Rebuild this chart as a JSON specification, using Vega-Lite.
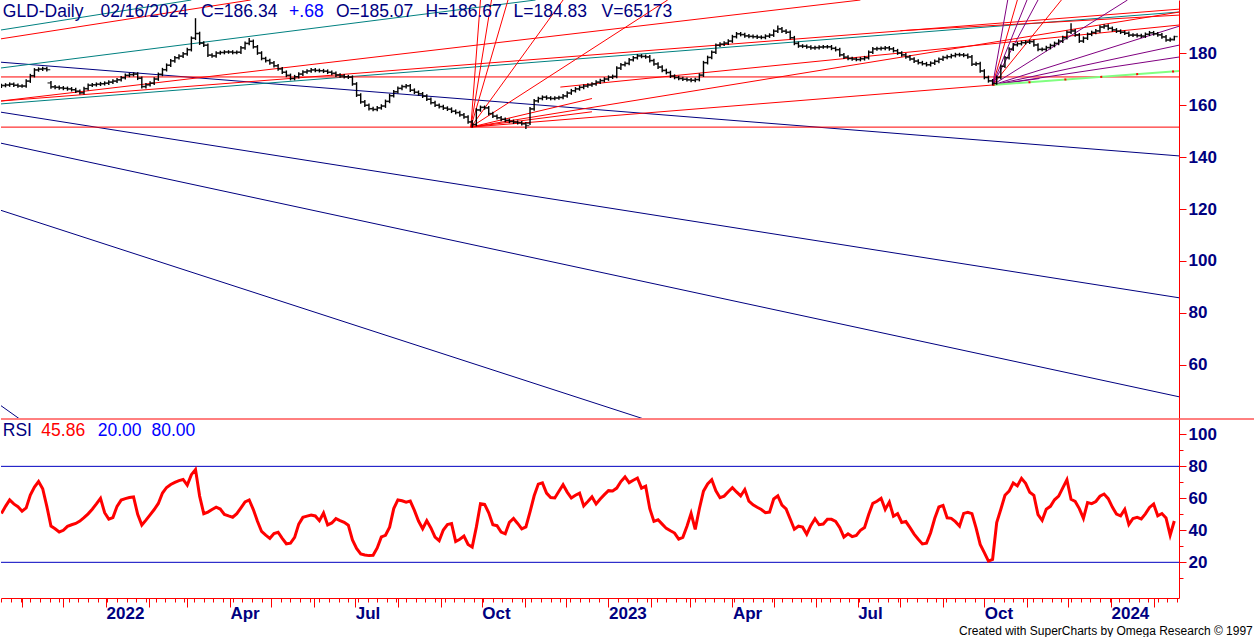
{
  "$schema": "https://vega.github.io/schema/vega-lite/v6.json",
  "padding": 0,
  "spacing": 0,
  "background": "white",
  "config": {
    "view": {"stroke": null},
    "font": "Liberation Sans",
    "axis": {"labelFont": "Liberation Sans", "grid": false}
  },
  "datasets": {
    "bars": [
      {"d":"2021-10-17","o":167.2,"h":168.2,"l":166.5,"c":167.5,"r":50.5},
      {"d":"2021-10-20","o":167.5,"h":168.4,"l":166.8,"c":167.7,"r":55},
      {"d":"2021-10-23","o":167.7,"h":168.7,"l":167,"c":168,"r":59},
      {"d":"2021-10-26","o":168,"h":168.7,"l":166.9,"c":167.6,"r":56.5},
      {"d":"2021-10-29","o":167.6,"h":168.3,"l":166.6,"c":167.3,"r":54.8},
      {"d":"2021-11-01","o":167.3,"h":168,"l":166.6,"c":167.3,"r":52},
      {"d":"2021-11-04","o":167.3,"h":169.9,"l":166.6,"c":169.2,"r":54},
      {"d":"2021-11-07","o":169.2,"h":172,"l":168.5,"c":171.3,"r":62},
      {"d":"2021-11-10","o":171.3,"h":174.2,"l":170.6,"c":173.5,"r":67},
      {"d":"2021-11-13","o":173.5,"h":174.5,"l":172.8,"c":173.8,"r":70.5},
      {"d":"2021-11-16","o":173.8,"h":174.7,"l":173.1,"c":174,"r":66},
      {"d":"2021-11-19","o":174,"h":174.7,"l":172.9,"c":173.6,"r":55},
      {"d":"2021-11-22","o":168.5,"h":169.2,"l":166.3,"c":167,"r":42.7},
      {"d":"2021-11-25","o":167,"h":167.7,"l":166.1,"c":166.8,"r":41},
      {"d":"2021-11-28","o":166.8,"h":167.5,"l":165.9,"c":166.6,"r":39},
      {"d":"2021-12-01","o":166.6,"h":167.3,"l":165.7,"c":166.4,"r":40},
      {"d":"2021-12-04","o":166.4,"h":167.1,"l":165.5,"c":166.2,"r":42.5},
      {"d":"2021-12-07","o":166.2,"h":166.9,"l":165.2,"c":165.9,"r":43.5},
      {"d":"2021-12-10","o":165.9,"h":166.6,"l":164.6,"c":165.3,"r":44.3},
      {"d":"2021-12-13","o":165.3,"h":166,"l":164,"c":164.7,"r":45.8},
      {"d":"2021-12-16","o":164.7,"h":167,"l":164,"c":166.3,"r":47.9},
      {"d":"2021-12-19","o":166.3,"h":168.3,"l":165.6,"c":167.6,"r":50.3},
      {"d":"2021-12-22","o":167.6,"h":168.5,"l":166.9,"c":167.8,"r":53.2},
      {"d":"2021-12-25","o":167.8,"h":168.7,"l":167.1,"c":168,"r":56.5},
      {"d":"2021-12-28","o":168,"h":168.9,"l":167.3,"c":168.2,"r":60},
      {"d":"2021-12-31","o":168.2,"h":169.1,"l":167.5,"c":168.4,"r":51},
      {"d":"2022-01-03","o":168.4,"h":169.5,"l":167.7,"c":168.8,"r":47},
      {"d":"2022-01-06","o":168.8,"h":169.9,"l":168.1,"c":169.2,"r":48},
      {"d":"2022-01-09","o":169.2,"h":170.4,"l":168.5,"c":169.7,"r":55},
      {"d":"2022-01-12","o":169.7,"h":171.2,"l":169,"c":170.5,"r":58.9},
      {"d":"2022-01-15","o":170.5,"h":172.1,"l":169.8,"c":171.4,"r":59.8},
      {"d":"2022-01-18","o":171.4,"h":172.4,"l":170.7,"c":171.7,"r":60.5},
      {"d":"2022-01-21","o":171.7,"h":172.6,"l":171,"c":171.9,"r":60.9},
      {"d":"2022-01-24","o":171.9,"h":172.6,"l":169.6,"c":170.3,"r":50},
      {"d":"2022-01-27","o":170.3,"h":171,"l":166.4,"c":167.1,"r":43.3},
      {"d":"2022-01-30","o":167.1,"h":168.5,"l":166.4,"c":167.8,"r":46.4},
      {"d":"2022-02-02","o":167.8,"h":169.1,"l":167.1,"c":168.4,"r":49.7},
      {"d":"2022-02-05","o":168.4,"h":170.7,"l":167.7,"c":170,"r":53},
      {"d":"2022-02-08","o":170,"h":172.5,"l":169.3,"c":171.8,"r":56.8},
      {"d":"2022-02-11","o":171.8,"h":174.3,"l":171.1,"c":173.6,"r":63.3},
      {"d":"2022-02-14","o":173.6,"h":176,"l":172.9,"c":175.3,"r":66.8},
      {"d":"2022-02-17","o":175.3,"h":177.7,"l":174.6,"c":177,"r":68.7},
      {"d":"2022-02-20","o":177,"h":178.9,"l":176.3,"c":178.2,"r":70},
      {"d":"2022-02-23","o":178.2,"h":179.5,"l":177.5,"c":178.8,"r":71.1},
      {"d":"2022-02-26","o":178.8,"h":180.4,"l":178.1,"c":179.7,"r":71.8},
      {"d":"2022-03-01","o":179.7,"h":182,"l":179,"c":181.3,"r":68.3},
      {"d":"2022-03-04","o":181.3,"h":186.4,"l":180.6,"c":185.7,"r":74.8},
      {"d":"2022-03-07","o":185.7,"h":193.4,"l":185,"c":187.5,"r":78},
      {"d":"2022-03-10","o":187.5,"h":188.2,"l":183.1,"c":183.8,"r":61.4},
      {"d":"2022-03-13","o":183.8,"h":184.5,"l":182.3,"c":183,"r":50.4},
      {"d":"2022-03-16","o":183,"h":183.7,"l":178.5,"c":179.2,"r":51.4},
      {"d":"2022-03-19","o":179.2,"h":179.9,"l":178.2,"c":178.9,"r":53},
      {"d":"2022-03-22","o":178.9,"h":180.7,"l":178.2,"c":180,"r":54.5},
      {"d":"2022-03-25","o":180,"h":180.9,"l":179.3,"c":180.2,"r":53.3},
      {"d":"2022-03-28","o":180.2,"h":181.1,"l":179.5,"c":180.4,"r":49.9},
      {"d":"2022-03-31","o":180.4,"h":181.1,"l":179.7,"c":180.4,"r":49},
      {"d":"2022-04-03","o":180.4,"h":181.1,"l":179.5,"c":180.2,"r":48.2},
      {"d":"2022-04-06","o":180.2,"h":181,"l":179.5,"c":180.3,"r":50.4},
      {"d":"2022-04-09","o":180.3,"h":182.7,"l":179.6,"c":182,"r":54.1},
      {"d":"2022-04-12","o":182,"h":184.4,"l":181.3,"c":183.7,"r":57.8},
      {"d":"2022-04-15","o":183.7,"h":185.8,"l":183,"c":184.5,"r":59},
      {"d":"2022-04-18","o":184.5,"h":185.2,"l":181.7,"c":182.4,"r":53},
      {"d":"2022-04-21","o":182.4,"h":183.1,"l":179.3,"c":180,"r":45.7},
      {"d":"2022-04-24","o":180,"h":180.7,"l":177.2,"c":177.9,"r":39.3},
      {"d":"2022-04-27","o":177.9,"h":178.6,"l":176.4,"c":177.1,"r":37},
      {"d":"2022-04-30","o":177.1,"h":177.8,"l":175.5,"c":176.2,"r":35},
      {"d":"2022-05-03","o":176.2,"h":176.9,"l":174.4,"c":175.1,"r":38},
      {"d":"2022-05-06","o":175.1,"h":175.8,"l":173.2,"c":173.9,"r":38.8},
      {"d":"2022-05-09","o":173.9,"h":174.6,"l":171.9,"c":172.6,"r":35},
      {"d":"2022-05-12","o":172.6,"h":173.3,"l":170.7,"c":171.4,"r":31.6},
      {"d":"2022-05-15","o":171.4,"h":172.1,"l":169.5,"c":170.2,"r":32},
      {"d":"2022-05-18","o":170.2,"h":171.6,"l":169.5,"c":170.9,"r":35.6},
      {"d":"2022-05-21","o":170.9,"h":172.6,"l":170.2,"c":171.9,"r":43.9},
      {"d":"2022-05-24","o":171.9,"h":173.4,"l":171.2,"c":172.7,"r":48.1},
      {"d":"2022-05-27","o":172.7,"h":173.8,"l":172,"c":173.1,"r":48.9},
      {"d":"2022-05-30","o":173.1,"h":174.2,"l":172.4,"c":173.5,"r":49.6},
      {"d":"2022-06-02","o":173.5,"h":174.2,"l":172.6,"c":173.3,"r":49},
      {"d":"2022-06-05","o":173.3,"h":174,"l":172.5,"c":173.2,"r":46},
      {"d":"2022-06-08","o":173.2,"h":173.9,"l":172.3,"c":173,"r":50.8},
      {"d":"2022-06-11","o":173,"h":173.7,"l":171.9,"c":172.6,"r":43.4},
      {"d":"2022-06-14","o":172.6,"h":173.3,"l":171.5,"c":172.2,"r":44.6},
      {"d":"2022-06-17","o":172.2,"h":172.9,"l":170.8,"c":171.5,"r":47.3},
      {"d":"2022-06-20","o":171.5,"h":172.2,"l":170.5,"c":171.2,"r":46.1},
      {"d":"2022-06-23","o":171.2,"h":171.9,"l":170.2,"c":170.9,"r":45},
      {"d":"2022-06-26","o":170.9,"h":171.6,"l":170,"c":170.7,"r":43.2},
      {"d":"2022-06-29","o":170.7,"h":171.4,"l":167.4,"c":168.1,"r":34},
      {"d":"2022-07-02","o":168.1,"h":168.8,"l":163.1,"c":163.8,"r":28.7},
      {"d":"2022-07-05","o":163.8,"h":164.5,"l":160.5,"c":161.2,"r":25.2},
      {"d":"2022-07-08","o":161.2,"h":161.9,"l":159.2,"c":159.9,"r":24.6},
      {"d":"2022-07-11","o":159.9,"h":160.6,"l":157.9,"c":158.6,"r":24.2},
      {"d":"2022-07-14","o":158.6,"h":159.3,"l":157.6,"c":158.3,"r":24.4},
      {"d":"2022-07-17","o":158.3,"h":159.6,"l":157.6,"c":158.9,"r":29},
      {"d":"2022-07-20","o":158.9,"h":160.3,"l":158.2,"c":159.6,"r":35.9},
      {"d":"2022-07-23","o":159.6,"h":162.1,"l":158.9,"c":161.4,"r":36.9},
      {"d":"2022-07-26","o":161.4,"h":164.3,"l":160.7,"c":163.6,"r":42},
      {"d":"2022-07-29","o":163.6,"h":165.8,"l":162.9,"c":165.1,"r":53.6},
      {"d":"2022-08-01","o":165.1,"h":167.1,"l":164.4,"c":166.4,"r":59},
      {"d":"2022-08-04","o":166.4,"h":167.8,"l":165.7,"c":167.1,"r":58.5},
      {"d":"2022-08-07","o":167.1,"h":168.1,"l":166.4,"c":167.4,"r":57.6},
      {"d":"2022-08-10","o":167.4,"h":168.1,"l":165,"c":165.7,"r":58.3},
      {"d":"2022-08-13","o":165.7,"h":166.4,"l":164.2,"c":164.9,"r":52.5},
      {"d":"2022-08-16","o":164.9,"h":165.6,"l":163.6,"c":164.3,"r":45.8},
      {"d":"2022-08-19","o":164.3,"h":165,"l":162.7,"c":163.4,"r":41},
      {"d":"2022-08-22","o":163.4,"h":164.1,"l":161.5,"c":162.2,"r":46},
      {"d":"2022-08-25","o":162.2,"h":162.9,"l":160.2,"c":160.9,"r":41.5},
      {"d":"2022-08-28","o":160.9,"h":161.6,"l":159.2,"c":159.9,"r":35.8},
      {"d":"2022-08-31","o":159.9,"h":160.6,"l":158.7,"c":159.4,"r":33.5},
      {"d":"2022-09-03","o":159.4,"h":160.1,"l":158.1,"c":158.8,"r":40.2},
      {"d":"2022-09-06","o":158.8,"h":159.5,"l":157.7,"c":158.4,"r":43.6},
      {"d":"2022-09-09","o":158.4,"h":159.1,"l":156.9,"c":157.6,"r":44.2},
      {"d":"2022-09-12","o":157.6,"h":158.3,"l":156.4,"c":157.1,"r":33},
      {"d":"2022-09-15","o":157.1,"h":157.8,"l":155.5,"c":156.2,"r":34.4},
      {"d":"2022-09-18","o":156.2,"h":156.9,"l":154.7,"c":155.4,"r":36.4},
      {"d":"2022-09-21","o":155.4,"h":156.1,"l":152.8,"c":153.5,"r":31.2},
      {"d":"2022-09-24","o":153.5,"h":154.2,"l":151.4,"c":152.5,"r":29.5},
      {"d":"2022-09-27","o":152.5,"h":158.8,"l":151.8,"c":158.1,"r":42},
      {"d":"2022-09-30","o":158.1,"h":159.8,"l":157.4,"c":159.1,"r":56.6},
      {"d":"2022-10-03","o":159.1,"h":159.8,"l":158.2,"c":158.9,"r":56.2},
      {"d":"2022-10-06","o":158.9,"h":159.6,"l":156,"c":156.7,"r":51},
      {"d":"2022-10-09","o":156.7,"h":157.4,"l":155,"c":155.7,"r":43.5},
      {"d":"2022-10-12","o":155.7,"h":156.4,"l":154.4,"c":155.1,"r":42.9},
      {"d":"2022-10-15","o":155.1,"h":155.8,"l":153.8,"c":154.5,"r":38.9},
      {"d":"2022-10-18","o":154.5,"h":155.2,"l":153.4,"c":154.1,"r":37.8},
      {"d":"2022-10-21","o":154.1,"h":154.8,"l":153,"c":153.7,"r":45},
      {"d":"2022-10-24","o":153.7,"h":154.4,"l":152.7,"c":153.4,"r":47.4},
      {"d":"2022-10-27","o":153.4,"h":154.1,"l":152.5,"c":153.2,"r":44.3},
      {"d":"2022-10-30","o":153.2,"h":153.9,"l":152.1,"c":152.8,"r":40.9},
      {"d":"2022-11-02","o":152.8,"h":153.5,"l":150.8,"c":152.1,"r":42.1},
      {"d":"2022-11-05","o":153,"h":159.2,"l":152.3,"c":158.5,"r":51.5},
      {"d":"2022-11-08","o":158.5,"h":162.3,"l":157.8,"c":161.6,"r":61.6},
      {"d":"2022-11-11","o":161.6,"h":163.2,"l":160.9,"c":162.5,"r":68.9},
      {"d":"2022-11-14","o":162.5,"h":163.7,"l":161.8,"c":163,"r":69.7},
      {"d":"2022-11-17","o":163,"h":163.7,"l":162,"c":162.7,"r":63.3},
      {"d":"2022-11-20","o":162.7,"h":163.4,"l":161.8,"c":162.5,"r":60.5},
      {"d":"2022-11-23","o":162.5,"h":163.4,"l":161.8,"c":162.7,"r":60.2},
      {"d":"2022-11-26","o":162.7,"h":163.6,"l":162,"c":162.9,"r":64.4},
      {"d":"2022-11-29","o":162.9,"h":164.2,"l":162.2,"c":163.5,"r":68.5},
      {"d":"2022-12-02","o":163.5,"h":165.3,"l":162.8,"c":164.6,"r":63.9},
      {"d":"2022-12-05","o":164.6,"h":166.2,"l":163.9,"c":165.5,"r":60.2},
      {"d":"2022-12-08","o":165.5,"h":166.9,"l":164.8,"c":166.2,"r":61.9},
      {"d":"2022-12-11","o":166.2,"h":167.5,"l":165.5,"c":166.8,"r":63.3},
      {"d":"2022-12-14","o":166.8,"h":168,"l":166.1,"c":167.3,"r":55.3},
      {"d":"2022-12-17","o":167.3,"h":168.4,"l":166.6,"c":167.7,"r":58},
      {"d":"2022-12-20","o":167.7,"h":168.8,"l":167,"c":168.1,"r":60.9},
      {"d":"2022-12-23","o":168.1,"h":169.5,"l":167.4,"c":168.8,"r":56.5},
      {"d":"2022-12-26","o":168.8,"h":170.1,"l":168.1,"c":169.4,"r":59.6},
      {"d":"2022-12-29","o":169.4,"h":170.7,"l":168.7,"c":170,"r":62.3},
      {"d":"2023-01-01","o":170,"h":171.4,"l":169.3,"c":170.7,"r":64.8},
      {"d":"2023-01-04","o":170.7,"h":171.7,"l":170,"c":171,"r":64.6},
      {"d":"2023-01-07","o":171,"h":174.9,"l":170.3,"c":174.2,"r":66.4},
      {"d":"2023-01-10","o":174.2,"h":176.2,"l":173.5,"c":175.5,"r":70.5},
      {"d":"2023-01-13","o":175.5,"h":176.7,"l":174.8,"c":176,"r":73.4},
      {"d":"2023-01-16","o":176,"h":178.1,"l":175.3,"c":177.4,"r":69.8},
      {"d":"2023-01-19","o":177.4,"h":178.9,"l":176.7,"c":178.2,"r":71.3},
      {"d":"2023-01-22","o":178.2,"h":179.6,"l":177.5,"c":178.9,"r":72.7},
      {"d":"2023-01-25","o":178.9,"h":179.6,"l":178,"c":178.7,"r":66.4},
      {"d":"2023-01-28","o":178.7,"h":179.4,"l":177.8,"c":178.5,"r":67.6},
      {"d":"2023-01-31","o":178.5,"h":179.2,"l":176.4,"c":177.1,"r":53.5},
      {"d":"2023-02-03","o":177.1,"h":177.8,"l":175.1,"c":175.8,"r":45.6},
      {"d":"2023-02-06","o":175.8,"h":176.5,"l":173.9,"c":174.6,"r":46.6},
      {"d":"2023-02-09","o":174.6,"h":175.3,"l":172.6,"c":173.3,"r":43.9},
      {"d":"2023-02-12","o":173.3,"h":174,"l":171.8,"c":172.5,"r":41.2},
      {"d":"2023-02-15","o":172.5,"h":173.2,"l":170.4,"c":171.1,"r":39.7},
      {"d":"2023-02-18","o":171.1,"h":171.8,"l":169.9,"c":170.6,"r":38.3},
      {"d":"2023-02-21","o":170.6,"h":171.3,"l":169.5,"c":170.2,"r":34.5},
      {"d":"2023-02-24","o":170.2,"h":170.9,"l":169.2,"c":169.9,"r":35.6},
      {"d":"2023-02-27","o":169.9,"h":170.6,"l":169,"c":169.7,"r":42.6},
      {"d":"2023-03-02","o":169.7,"h":170.4,"l":168.8,"c":169.5,"r":50.6},
      {"d":"2023-03-05","o":169.5,"h":170.5,"l":168.8,"c":169.8,"r":40.6},
      {"d":"2023-03-08","o":169.8,"h":172.2,"l":169.1,"c":171.5,"r":53.5},
      {"d":"2023-03-11","o":171.5,"h":177,"l":170.8,"c":176.3,"r":64.5},
      {"d":"2023-03-14","o":176.3,"h":179,"l":175.6,"c":178.3,"r":69},
      {"d":"2023-03-17","o":178.3,"h":181,"l":177.6,"c":180.3,"r":71.6},
      {"d":"2023-03-20","o":180.3,"h":183.7,"l":179.6,"c":183,"r":64.7},
      {"d":"2023-03-23","o":183,"h":184.1,"l":182.3,"c":183.4,"r":60.4},
      {"d":"2023-03-26","o":183.4,"h":184.5,"l":182.7,"c":183.8,"r":61.4},
      {"d":"2023-03-29","o":183.8,"h":185.3,"l":183.1,"c":184.6,"r":64.1},
      {"d":"2023-04-01","o":184.6,"h":187,"l":183.9,"c":186.3,"r":66.7},
      {"d":"2023-04-04","o":186.3,"h":188.1,"l":185.6,"c":187.4,"r":64},
      {"d":"2023-04-07","o":187.4,"h":188.1,"l":186.4,"c":187.1,"r":61.5},
      {"d":"2023-04-10","o":187.1,"h":187.8,"l":185.9,"c":186.6,"r":65.5},
      {"d":"2023-04-13","o":186.6,"h":187.3,"l":185.7,"c":186.4,"r":58.2},
      {"d":"2023-04-16","o":186.4,"h":187.1,"l":185.6,"c":186.3,"r":55.9},
      {"d":"2023-04-19","o":186.3,"h":187,"l":185.4,"c":186.1,"r":54.4},
      {"d":"2023-04-22","o":186.1,"h":186.8,"l":185.3,"c":186,"r":53},
      {"d":"2023-04-25","o":186,"h":187.2,"l":185.3,"c":186.5,"r":51},
      {"d":"2023-04-28","o":186.5,"h":187.6,"l":185.8,"c":186.9,"r":51.4},
      {"d":"2023-05-01","o":186.9,"h":189.1,"l":186.2,"c":188.4,"r":59.6},
      {"d":"2023-05-04","o":188.4,"h":190.6,"l":187.7,"c":189.3,"r":61.6},
      {"d":"2023-05-07","o":189.3,"h":190,"l":187.7,"c":188.4,"r":55.7},
      {"d":"2023-05-10","o":188.4,"h":189.1,"l":187.3,"c":188,"r":53.4},
      {"d":"2023-05-13","o":188,"h":188.7,"l":185.2,"c":185.9,"r":47.1},
      {"d":"2023-05-16","o":185.9,"h":186.6,"l":183,"c":183.7,"r":40.7},
      {"d":"2023-05-19","o":183.7,"h":184.4,"l":182,"c":182.7,"r":42.6},
      {"d":"2023-05-22","o":182.7,"h":183.4,"l":181.9,"c":182.6,"r":42},
      {"d":"2023-05-25","o":182.6,"h":183.3,"l":181.6,"c":182.3,"r":37.6},
      {"d":"2023-05-28","o":182.3,"h":183,"l":181.3,"c":182,"r":43.1},
      {"d":"2023-05-31","o":182,"h":182.8,"l":181.3,"c":182.1,"r":47.3},
      {"d":"2023-06-03","o":182.1,"h":183,"l":181.4,"c":182.3,"r":43.5},
      {"d":"2023-06-06","o":182.3,"h":183.1,"l":181.6,"c":182.4,"r":43.9},
      {"d":"2023-06-09","o":182.4,"h":183.1,"l":181.7,"c":182.4,"r":46.9},
      {"d":"2023-06-12","o":182.4,"h":183.1,"l":181.1,"c":181.8,"r":46.9},
      {"d":"2023-06-15","o":181.8,"h":182.5,"l":180.6,"c":181.3,"r":45.6},
      {"d":"2023-06-18","o":181.3,"h":182,"l":178.6,"c":179.3,"r":41.7},
      {"d":"2023-06-21","o":179.3,"h":180,"l":177.7,"c":178.4,"r":35.8},
      {"d":"2023-06-24","o":178.4,"h":179.1,"l":177.2,"c":177.9,"r":37.8},
      {"d":"2023-06-27","o":177.9,"h":178.6,"l":177,"c":177.7,"r":36.1},
      {"d":"2023-06-30","o":177.7,"h":178.4,"l":176.8,"c":177.5,"r":36.8},
      {"d":"2023-07-03","o":177.5,"h":178.5,"l":176.8,"c":177.8,"r":40},
      {"d":"2023-07-06","o":177.8,"h":178.9,"l":177.1,"c":178.2,"r":41.8},
      {"d":"2023-07-09","o":178.2,"h":181,"l":177.5,"c":180.3,"r":49.9},
      {"d":"2023-07-12","o":180.3,"h":182.3,"l":179.6,"c":181.6,"r":56.9},
      {"d":"2023-07-15","o":181.6,"h":182.4,"l":180.9,"c":181.7,"r":58.2},
      {"d":"2023-07-18","o":181.7,"h":182.5,"l":181,"c":181.8,"r":60},
      {"d":"2023-07-21","o":181.8,"h":182.7,"l":181.1,"c":182,"r":53.1},
      {"d":"2023-07-24","o":182,"h":182.7,"l":180.9,"c":181.6,"r":57.7},
      {"d":"2023-07-27","o":181.6,"h":182.3,"l":180.2,"c":180.9,"r":48.8},
      {"d":"2023-07-30","o":180.9,"h":181.6,"l":179.3,"c":180,"r":50.4},
      {"d":"2023-08-02","o":180,"h":180.7,"l":178.6,"c":179.3,"r":44.9},
      {"d":"2023-08-05","o":179.3,"h":180,"l":177.8,"c":178.5,"r":45.5},
      {"d":"2023-08-08","o":178.5,"h":179.2,"l":177,"c":177.7,"r":41.7},
      {"d":"2023-08-11","o":177.7,"h":178.4,"l":176.2,"c":176.9,"r":37.6},
      {"d":"2023-08-14","o":176.9,"h":177.6,"l":175.6,"c":176.3,"r":34.4},
      {"d":"2023-08-17","o":176.3,"h":177,"l":175.2,"c":175.9,"r":31.5},
      {"d":"2023-08-20","o":175.9,"h":176.6,"l":174.8,"c":175.5,"r":32},
      {"d":"2023-08-23","o":175.5,"h":176.8,"l":174.8,"c":176.1,"r":38.5},
      {"d":"2023-08-26","o":176.1,"h":177.5,"l":175.4,"c":176.8,"r":47.5},
      {"d":"2023-08-29","o":176.8,"h":178.3,"l":176.1,"c":177.6,"r":54.6},
      {"d":"2023-09-01","o":177.6,"h":179,"l":176.9,"c":178.3,"r":55.6},
      {"d":"2023-09-04","o":178.3,"h":179.3,"l":177.6,"c":178.6,"r":47.8},
      {"d":"2023-09-07","o":178.6,"h":179.7,"l":177.9,"c":179,"r":47.5},
      {"d":"2023-09-10","o":179,"h":180.1,"l":178.3,"c":179.4,"r":45.4},
      {"d":"2023-09-13","o":179.4,"h":180.1,"l":178.6,"c":179.3,"r":42.6},
      {"d":"2023-09-16","o":179.3,"h":180,"l":178.4,"c":179.1,"r":50.6},
      {"d":"2023-09-19","o":179.1,"h":179.8,"l":177.8,"c":178.5,"r":51.3},
      {"d":"2023-09-22","o":178.5,"h":179.2,"l":175,"c":175.7,"r":50.4},
      {"d":"2023-09-25","o":175.7,"h":176.6,"l":175,"c":175.9,"r":41.6},
      {"d":"2023-09-28","o":175.9,"h":176.6,"l":172.4,"c":173.1,"r":31.2},
      {"d":"2023-10-01","o":173.1,"h":173.8,"l":169.9,"c":170.6,"r":26.1},
      {"d":"2023-10-04","o":170.6,"h":171.3,"l":168.6,"c":169.3,"r":20.8},
      {"d":"2023-10-07","o":169.3,"h":170,"l":167.6,"c":168.3,"r":21.8},
      {"d":"2023-10-10","o":168.3,"h":171.3,"l":167.8,"c":170.6,"r":44.9},
      {"d":"2023-10-13","o":170.6,"h":175.6,"l":169.9,"c":174.9,"r":53.2},
      {"d":"2023-10-16","o":174.9,"h":178.9,"l":174.2,"c":178.2,"r":61.9},
      {"d":"2023-10-19","o":178.2,"h":182.2,"l":177.5,"c":181.5,"r":64.5},
      {"d":"2023-10-22","o":181.5,"h":183.9,"l":180.8,"c":183.2,"r":69.6},
      {"d":"2023-10-25","o":183.2,"h":184.3,"l":182.5,"c":183.6,"r":67.8},
      {"d":"2023-10-28","o":183.6,"h":184.7,"l":182.9,"c":184,"r":72.5},
      {"d":"2023-10-31","o":184,"h":184.9,"l":183.3,"c":184.2,"r":69.4},
      {"d":"2023-11-03","o":184.2,"h":185.1,"l":183.5,"c":184.4,"r":63.8},
      {"d":"2023-11-06","o":184.4,"h":185.1,"l":182.4,"c":183.1,"r":61.9},
      {"d":"2023-11-09","o":183.1,"h":183.8,"l":180.7,"c":181.4,"r":49.8},
      {"d":"2023-11-12","o":181.4,"h":182.1,"l":180.7,"c":181.4,"r":46.2},
      {"d":"2023-11-15","o":181.4,"h":182.8,"l":180.7,"c":182.1,"r":53.2},
      {"d":"2023-11-18","o":182.1,"h":183.6,"l":181.4,"c":182.9,"r":55},
      {"d":"2023-11-21","o":182.9,"h":184.4,"l":182.2,"c":183.7,"r":59.1},
      {"d":"2023-11-24","o":183.7,"h":185.3,"l":183,"c":184.6,"r":61.4},
      {"d":"2023-11-27","o":184.6,"h":186.6,"l":183.9,"c":185.9,"r":66.5},
      {"d":"2023-11-30","o":185.9,"h":188.7,"l":185.2,"c":188,"r":71.6},
      {"d":"2023-12-03","o":188,"h":191.5,"l":187.3,"c":188.5,"r":59.4},
      {"d":"2023-12-06","o":188.5,"h":189.2,"l":186.3,"c":187,"r":58.1},
      {"d":"2023-12-09","o":187,"h":187.7,"l":183.9,"c":184.6,"r":53.6},
      {"d":"2023-12-12","o":184.6,"h":186.4,"l":183.9,"c":185.7,"r":47.5},
      {"d":"2023-12-15","o":185.7,"h":187.9,"l":185,"c":187.2,"r":57.3},
      {"d":"2023-12-18","o":187.2,"h":188.6,"l":186.5,"c":187.9,"r":56.7},
      {"d":"2023-12-21","o":187.9,"h":189.2,"l":187.2,"c":188.5,"r":58},
      {"d":"2023-12-24","o":188.5,"h":190.7,"l":187.8,"c":190,"r":61.3},
      {"d":"2023-12-27","o":190,"h":191.1,"l":189.3,"c":190.4,"r":62.7},
      {"d":"2023-12-30","o":190.4,"h":191.1,"l":188.8,"c":189.5,"r":59.8},
      {"d":"2024-01-02","o":189.5,"h":190.2,"l":188.2,"c":188.9,"r":54.5},
      {"d":"2024-01-05","o":188.9,"h":189.6,"l":187.7,"c":188.4,"r":50.2},
      {"d":"2024-01-08","o":188.4,"h":189.1,"l":187.3,"c":188,"r":49.1},
      {"d":"2024-01-11","o":188,"h":188.7,"l":186.9,"c":187.6,"r":53.1},
      {"d":"2024-01-14","o":187.6,"h":188.3,"l":186.2,"c":186.9,"r":43.7},
      {"d":"2024-01-17","o":186.9,"h":187.6,"l":186.2,"c":186.9,"r":47.4},
      {"d":"2024-01-20","o":186.9,"h":187.6,"l":186,"c":186.7,"r":48.1},
      {"d":"2024-01-23","o":186.7,"h":187.4,"l":185.8,"c":186.5,"r":47.1},
      {"d":"2024-01-26","o":186.5,"h":187.9,"l":185.8,"c":187.2,"r":50.3},
      {"d":"2024-01-29","o":187.2,"h":188.5,"l":186.5,"c":187.8,"r":54.3},
      {"d":"2024-02-01","o":187.8,"h":188.5,"l":186.7,"c":187.4,"r":56.4},
      {"d":"2024-02-04","o":187.4,"h":188.1,"l":186.3,"c":187,"r":49.1},
      {"d":"2024-02-07","o":187,"h":187.7,"l":185.5,"c":186.2,"r":50.5},
      {"d":"2024-02-10","o":186.2,"h":186.9,"l":184.3,"c":185,"r":47.7},
      {"d":"2024-02-13","o":185,"h":186,"l":184.3,"c":185.3,"r":37},
      {"d":"2024-02-16","o":185.07,"h":186.67,"l":184.83,"c":186.34,"r":45.86}
    ]
  },
  "vconcat": [
    {
      "width": 1178,
      "height": 418,
      "layer": [
        {
          "data": {
            "values": [
              {"d1":"2021-10-16","p1":176.5,"d2":"2024-02-20","p2":140.4,"g":"n"},
              {"d1":"2021-10-16","p1":157.3,"d2":"2024-02-20","p2":85.8,"g":"n"},
              {"d1":"2021-10-16","p1":145.4,"d2":"2024-02-20","p2":47.7,"g":"n"},
              {"d1":"2021-10-16","p1":119.6,"d2":"2023-03-01","p2":33.5,"g":"n"},
              {"d1":"2021-10-16","p1":44.6,"d2":"2021-11-07","p2":36.3,"g":"n"},
              {"d1":"2021-10-16","p1":188.8,"d2":"2022-03-04","p2":200.4,"g":"t"},
              {"d1":"2021-10-16","p1":174.2,"d2":"2022-11-09","p2":200.4,"g":"t"},
              {"d1":"2021-10-16","p1":160.4,"d2":"2024-02-20","p2":195.8,"g":"t"},
              {"d1":"2021-10-16","p1":170.8,"d2":"2024-02-20","p2":170.8,"g":"r"},
              {"d1":"2021-10-16","p1":151.5,"d2":"2024-02-20","p2":151.5,"g":"r"},
              {"d1":"2021-10-16","p1":161.5,"d2":"2024-02-20","p2":196.9,"g":"r"},
              {"d1":"2021-10-16","p1":185.4,"d2":"2022-04-16","p2":200.4,"g":"r"},
              {"d1":"2021-10-16","p1":161.5,"d2":"2023-07-03","p2":200.4,"g":"r"},
              {"d1":"2022-09-23","p1":151.5,"d2":"2022-09-30","p2":200.4,"g":"r"},
              {"d1":"2022-09-23","p1":151.5,"d2":"2022-10-08","p2":200.4,"g":"r"},
              {"d1":"2022-09-23","p1":151.5,"d2":"2022-10-20","p2":200.4,"g":"r"},
              {"d1":"2022-09-23","p1":151.5,"d2":"2022-11-29","p2":200.4,"g":"r"},
              {"d1":"2022-09-23","p1":151.5,"d2":"2023-02-13","p2":200.4,"g":"r"},
              {"d1":"2022-09-23","p1":151.5,"d2":"2024-02-20","p2":195.8,"g":"r"},
              {"d1":"2022-09-23","p1":151.5,"d2":"2023-10-07","p2":167.7,"g":"r"},
              {"d1":"2022-09-23","p1":151.5,"d2":"2022-12-20","p2":162.5,"g":"r"},
              {"d1":"2022-09-23","p1":151.5,"d2":"2022-12-20","p2":157.4,"g":"r"},
              {"d1":"2022-11-27","p1":166.9,"d2":"2024-02-20","p2":190.8,"g":"r"},
              {"d1":"2023-08-01","p1":188.6,"d2":"2024-02-20","p2":194.6,"g":"r"},
              {"d1":"2023-10-07","p1":167.7,"d2":"2023-10-25","p2":200.4,"g":"r"},
              {"d1":"2023-10-07","p1":167.7,"d2":"2023-11-26","p2":200.4,"g":"r"},
              {"d1":"2023-10-07","p1":167.7,"d2":"2023-10-18","p2":200.4,"g":"p"},
              {"d1":"2023-10-07","p1":167.7,"d2":"2023-11-01","p2":200.4,"g":"p"},
              {"d1":"2023-10-07","p1":167.7,"d2":"2023-11-09","p2":200.4,"g":"p"},
              {"d1":"2023-10-07","p1":167.7,"d2":"2024-01-13","p2":200.4,"g":"p"},
              {"d1":"2023-10-07","p1":167.7,"d2":"2024-02-20","p2":190.4,"g":"p"},
              {"d1":"2023-10-07","p1":167.7,"d2":"2024-02-20","p2":183.1,"g":"p"},
              {"d1":"2023-10-07","p1":167.7,"d2":"2024-02-20","p2":178.5,"g":"p"},
              {"d1":"2023-10-07","p1":167.7,"d2":"2023-11-10","p2":170.2,"g":"p"}
            ],
            "format": {"parse": {"d1": "date", "d2": "date"}}
          },
          "mark": {"type": "rule", "clip": true, "strokeWidth": 1},
          "encoding": {
            "x": {"field": "d1", "type": "temporal", "axis": null,
                  "scale": {"type": "utc", "nice": false, "domain": [{"year": 2021, "month": 10, "date": 16, "hours": 17, "utc": true}, {"year": 2024, "month": 2, "date": 19, "hours": 10, "utc": true}]}},
            "x2": {"field": "d2"},
            "y": {"field": "p1", "type": "quantitative", "title": null,
                  "scale": {"domain": [39.6, 200.4], "nice": false, "zero": false},
                  "axis": {"orient": "right", "values": [60, 80, 100, 120, 140, 160, 180], "tickSize": 7, "labelPadding": 2,
                           "domainColor": "#ff0000", "tickColor": "#ff0000", "labelColor": "#000080", "labelFontSize": 17,
                           "labelFontWeight": "bold", "labelBaseline": "middle", "title": null, "labelOverlap": false, "labelFlush": false}},
            "y2": {"field": "p2"},
            "color": {"field": "g", "type": "nominal", "legend": null,
                      "scale": {"domain": ["n", "t", "r", "p"], "range": ["#000080", "#008080", "#ff0000", "#800080"]}}
          }
        },
        {
          "data": {"values": [{"d1": "2023-10-07", "p1": 167.7, "d2": "2024-02-20", "p2": 173.1}], "format": {"parse": {"d1": "date", "d2": "date"}}},
          "mark": {"type": "rule", "clip": true, "strokeWidth": 2, "color": "#80ff80"},
          "encoding": {
            "x": {"field": "d1", "type": "temporal", "axis": null},
            "x2": {"field": "d2"},
            "y": {"field": "p1", "type": "quantitative", "title": null},
            "y2": {"field": "p2"}
          }
        },
        {
          "data": {"values": [{"d1": "2023-10-07", "p1": 167.7, "d2": "2024-02-20", "p2": 173.1}], "format": {"parse": {"d1": "date", "d2": "date"}}},
          "mark": {"type": "rule", "clip": true, "strokeWidth": 2, "color": "#ff0000", "strokeDash": [2, 34]},
          "encoding": {
            "x": {"field": "d1", "type": "temporal", "axis": null},
            "x2": {"field": "d2"},
            "y": {"field": "p1", "type": "quantitative", "title": null},
            "y2": {"field": "p2"}
          }
        },
        {
          "data": {"name": "bars"},
          "mark": {"type": "rule", "color": "#000000", "strokeWidth": 1.4, "clip": true},
          "encoding": {
            "x": {"field": "d", "type": "temporal", "axis": null},
            "y": {"field": "l", "type": "quantitative", "title": null},
            "y2": {"field": "h"}
          }
        },
        {
          "data": {"name": "bars"},
          "mark": {"type": "tick", "orient": "horizontal", "size": 3.5, "thickness": 1.4, "xOffset": -1.7, "color": "#000000", "clip": true},
          "encoding": {
            "x": {"field": "d", "type": "temporal", "axis": null},
            "y": {"field": "o", "type": "quantitative", "title": null}
          }
        },
        {
          "data": {"name": "bars"},
          "mark": {"type": "tick", "orient": "horizontal", "size": 3.5, "thickness": 1.4, "xOffset": 1.7, "color": "#000000", "clip": true},
          "encoding": {
            "x": {"field": "d", "type": "temporal", "axis": null},
            "y": {"field": "c", "type": "quantitative", "title": null}
          }
        },
        {
          "data": {"values": [{}]},
          "mark": {"type": "text", "align": "left", "baseline": "alphabetic", "fontSize": 17.5, "color": "#000080", "font": "Liberation Sans"},
          "encoding": {"x": {"datum": {"year": 2021, "month": 10, "date": 18, "utc": true}, "type": "temporal", "axis": null}, "y": {"datum": 193.8, "type": "quantitative", "title": null}, "text": {"value": "GLD-Daily"}}
        },
        {
          "data": {"values": [{}]},
          "mark": {"type": "text", "align": "left", "baseline": "alphabetic", "fontSize": 17.5, "color": "#000080", "font": "Liberation Sans"},
          "encoding": {"x": {"datum": {"year": 2021, "month": 12, "date": 28, "utc": true}, "type": "temporal", "axis": null}, "y": {"datum": 193.8, "type": "quantitative", "title": null}, "text": {"value": "02/16/2024"}}
        },
        {
          "data": {"values": [{}]},
          "mark": {"type": "text", "align": "left", "baseline": "alphabetic", "fontSize": 17.5, "color": "#000080", "font": "Liberation Sans"},
          "encoding": {"x": {"datum": {"year": 2022, "month": 3, "date": 11, "utc": true}, "type": "temporal", "axis": null}, "y": {"datum": 193.8, "type": "quantitative", "title": null}, "text": {"value": "C=186.34"}}
        },
        {
          "data": {"values": [{}]},
          "mark": {"type": "text", "align": "left", "baseline": "alphabetic", "fontSize": 17.5, "color": "#0000ff", "font": "Liberation Sans"},
          "encoding": {"x": {"datum": {"year": 2022, "month": 5, "date": 14, "utc": true}, "type": "temporal", "axis": null}, "y": {"datum": 193.8, "type": "quantitative", "title": null}, "text": {"value": "+.68"}}
        },
        {
          "data": {"values": [{}]},
          "mark": {"type": "text", "align": "left", "baseline": "alphabetic", "fontSize": 17.5, "color": "#000080", "font": "Liberation Sans"},
          "encoding": {"x": {"datum": {"year": 2022, "month": 6, "date": 17, "utc": true}, "type": "temporal", "axis": null}, "y": {"datum": 193.8, "type": "quantitative", "title": null}, "text": {"value": "O=185.07"}}
        },
        {
          "data": {"values": [{}]},
          "mark": {"type": "text", "align": "left", "baseline": "alphabetic", "fontSize": 17.5, "color": "#000080", "font": "Liberation Sans"},
          "encoding": {"x": {"datum": {"year": 2022, "month": 8, "date": 21, "utc": true}, "type": "temporal", "axis": null}, "y": {"datum": 193.8, "type": "quantitative", "title": null}, "text": {"value": "H=186.67"}}
        },
        {
          "data": {"values": [{}]},
          "mark": {"type": "text", "align": "left", "baseline": "alphabetic", "fontSize": 17.5, "color": "#000080", "font": "Liberation Sans"},
          "encoding": {"x": {"datum": {"year": 2022, "month": 10, "date": 24, "utc": true}, "type": "temporal", "axis": null}, "y": {"datum": 193.8, "type": "quantitative", "title": null}, "text": {"value": "L=184.83"}}
        },
        {
          "data": {"values": [{}]},
          "mark": {"type": "text", "align": "left", "baseline": "alphabetic", "fontSize": 17.5, "color": "#000080", "font": "Liberation Sans"},
          "encoding": {"x": {"datum": {"year": 2022, "month": 12, "date": 27, "utc": true}, "type": "temporal", "axis": null}, "y": {"datum": 193.8, "type": "quantitative", "title": null}, "text": {"value": "V=65173"}}
        }
      ]
    },
    {
      "width": 1178,
      "height": 179,
      "resolve": {"axis": {"x": "independent", "y": "independent"}},
      "layer": [
        {
          "data": {"values": [{"lv": 20}, {"lv": 80}]},
          "mark": {"type": "rule", "color": "#0000c0", "strokeWidth": 1},
          "encoding": {
            "y": {"field": "lv", "type": "quantitative", "title": null,
                  "scale": {"domain": [-2.3, 109.6], "nice": false, "zero": false},
                  "axis": {"orient": "right", "values": [20, 40, 60, 80, 100], "tickSize": 7,
                           "labelPadding": 2, "domainColor": "#ff0000", "tickColor": "#ff0000", "labelColor": "#000080",
                           "labelFontSize": 17, "labelFontWeight": "bold", "labelBaseline": "middle", "title": null,
                           "labelOverlap": false, "labelFlush": false}}
          }
        },
        {
          "data": {"name": "bars"},
          "mark": {"type": "line", "color": "#ff0000", "strokeWidth": 3, "clip": true},
          "encoding": {
            "x": {"field": "d", "type": "temporal",
                  "scale": {"type": "utc", "nice": false, "domain": [{"year": 2021, "month": 10, "date": 16, "hours": 17, "utc": true}, {"year": 2024, "month": 2, "date": 19, "hours": 10, "utc": true}]},
                  "axis": {"orient": "bottom", "tickCount": {"interval": "month", "step": 1}, "tickSize": 9,
                           "labelExpr": "utcmonth(datum.value) == 0 ? utcFormat(datum.value, '%Y') : (utcmonth(datum.value) % 3 == 0 ? utcFormat(datum.value, '%b') : '')",
                           "labelAlign": "left", "labelBaseline": "top", "labelPadding": -2, "labelOverlap": false, "labelFlush": false, "labelBound": false,
                           "domainColor": "#ff0000", "tickColor": "#ff0000", "labelColor": "#000080", "labelFontSize": 17, "labelFontWeight": "bold", "title": null}},
            "y": {"field": "r", "type": "quantitative", "title": null,
                  "axis": {"orient": "right", "values": [10, 30, 50, 70, 90], "tickSize": 4, "labels": false, "domain": false, "tickColor": "#ff0000", "title": null}}
          }
        },
        {
          "data": {"values": [{}]},
          "mark": {"type": "rule", "color": "#ff0000", "strokeWidth": 1, "clip": false},
          "encoding": {
            "x": {"datum": {"year": 2021, "month": 10, "date": 16, "hours": 17, "utc": true}, "type": "temporal",
                  "axis": {"orient": "bottom", "tickCount": {"interval": "week", "step": 1}, "tickSize": 4, "labels": false, "domain": false, "tickColor": "#ff0000", "title": null}},
            "x2": {"datum": {"year": 2024, "month": 4, "date": 14, "utc": true}},
            "y": {"datum": 109.6, "type": "quantitative", "axis": null}
          }
        },
        {
          "data": {"values": [{}]},
          "mark": {"type": "text", "align": "left", "baseline": "alphabetic", "fontSize": 17.5, "color": "#000080", "font": "Liberation Sans"},
          "encoding": {"x": {"datum": {"year": 2021, "month": 10, "date": 18, "utc": true}, "type": "temporal", "axis": null}, "y": {"datum": 99, "type": "quantitative", "axis": null}, "text": {"value": "RSI"}}
        },
        {
          "data": {"values": [{}]},
          "mark": {"type": "text", "align": "left", "baseline": "alphabetic", "fontSize": 17.5, "color": "#ff0000", "font": "Liberation Sans"},
          "encoding": {"x": {"datum": {"year": 2021, "month": 11, "date": 15, "utc": true}, "type": "temporal", "axis": null}, "y": {"datum": 99, "type": "quantitative", "axis": null}, "text": {"value": "45.86"}}
        },
        {
          "data": {"values": [{}]},
          "mark": {"type": "text", "align": "left", "baseline": "alphabetic", "fontSize": 17.5, "color": "#0000ff", "font": "Liberation Sans"},
          "encoding": {"x": {"datum": {"year": 2021, "month": 12, "date": 26, "utc": true}, "type": "temporal", "axis": null}, "y": {"datum": 99, "type": "quantitative", "axis": null}, "text": {"value": "20.00"}}
        },
        {
          "data": {"values": [{}]},
          "mark": {"type": "text", "align": "left", "baseline": "alphabetic", "fontSize": 17.5, "color": "#0000ff", "font": "Liberation Sans"},
          "encoding": {"x": {"datum": {"year": 2022, "month": 2, "date": 3, "utc": true}, "type": "temporal", "axis": null}, "y": {"datum": 99, "type": "quantitative", "axis": null}, "text": {"value": "80.00"}}
        },
        {
          "data": {"values": [{}]},
          "mark": {"type": "text", "align": "right", "baseline": "alphabetic", "fontSize": 12, "color": "#000000", "font": "Liberation Sans"},
          "encoding": {"x": {"datum": {"year": 2024, "month": 4, "date": 13, "utc": true}, "type": "temporal", "axis": null}, "y": {"datum": -25.4, "type": "quantitative", "axis": null}, "text": {"value": "Created with SuperCharts by Omega Research © 1997"}}
        }
      ]
    }
  ]
}
